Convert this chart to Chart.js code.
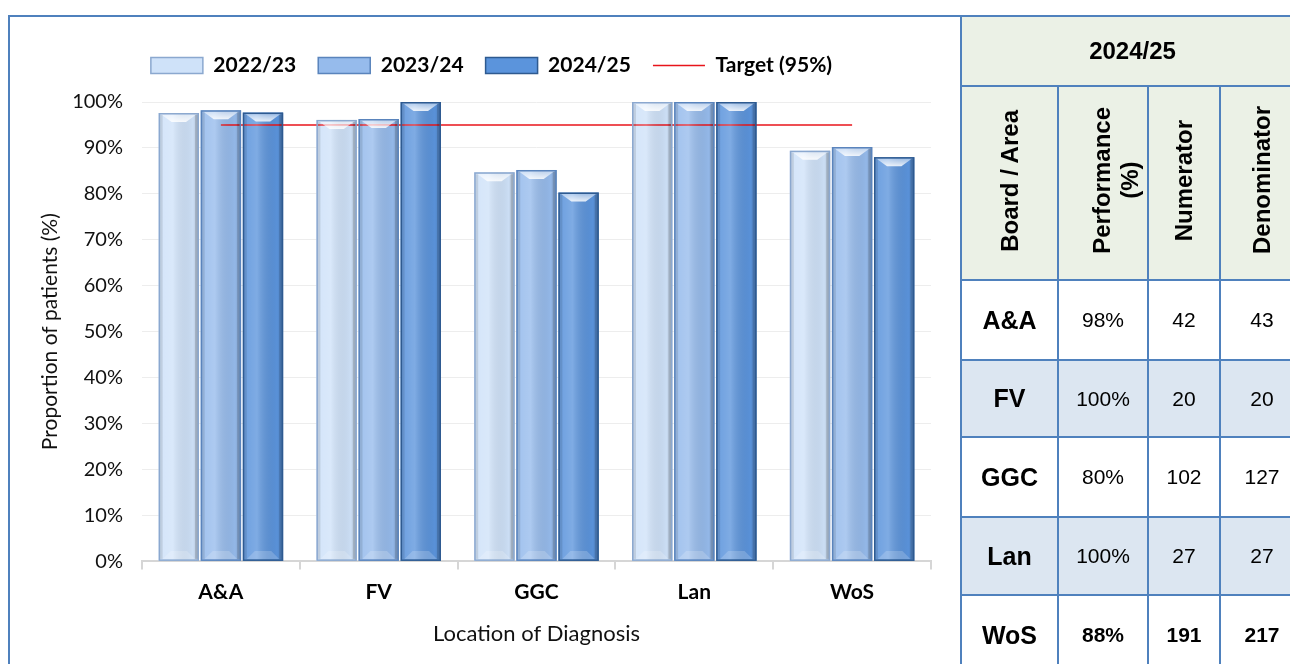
<!DOCTYPE html>
<html>
<head>
<meta charset="utf-8">
<script src="https://cdn.jsdelivr.net/npm/chart.js@4.4.1/dist/chart.umd.min.js"></script>
<style>
  html, body { margin: 0; padding: 0; background: #fff; overflow: hidden; }
  body { width: 1290px; height: 664px; position: relative; }
  #chart-panel {
    position: absolute; left: 8px; top: 15px; width: 953px; height: 660px;
    border-top: 2px solid #4f81bd; border-left: 2px solid #4f81bd; box-sizing: border-box;
  }
  #chart-wrap { position: absolute; left: 0; top: 0; width: 951px; height: 647px; }
  table.summary {
    position: absolute; left: 960px; top: 15px; table-layout: fixed; width: 343px;
    border-collapse: collapse; font-family: "Liberation Sans", Arial, sans-serif; color: #000;
  }
  table.summary td { border: 2px solid #4f81bd; text-align: center; padding: 0; font-size: 21px; }
  table.summary .hd { background: #ebf1e6; }
  table.summary .alt { background: #dce6f1; }
  table.summary .rot { writing-mode: vertical-rl; transform: rotate(180deg); font-weight: bold; font-size: 24px; line-height: 28px; display: inline-block; }
  table.summary .lab { font-weight: bold; font-size: 25px; }
  table.summary .bold td { font-weight: bold; }
</style>
</head>
<body>
<div id="chart-panel"><div id="chart-wrap"><canvas id="barChart"></canvas></div></div>
<table class="summary" id="summary"></table>
<script>
// data
const areas = ['A&A', 'FV', 'GGC', 'Lan', 'WoS'];
const years = ['2022/23', '2023/24', '2024/25'];
const perf2022 = [97.6, 96.1, 84.7, 100, 89.4];
const perf2023 = [98.2, 96.3, 85.2, 100, 90.2];
const perf2024 = [97.7, 100, 80.3, 100, 88.0];
const targetVals = [95, 95, 95, 95, 95];
const yTicks = [0, 10, 20, 30, 40, 50, 60, 70, 80, 90, 100];

// table for 2024/25
const tblPerf = ['98%', '100%', '80%', '100%', '88%'];
const tblNum = [42, 20, 102, 27, 191];
const tblDen = [43, 20, 127, 27, 217];

const barFill = ['#cfe2f9', '#96bbec', '#5b94dc'];
const barEdge = ['#8ba8cf', '#5a84bc', '#2e5a90'];
const fontFam = 'Lato, "Open Sans", sans-serif';

// --- table ---
const tbl = document.getElementById('summary');
let html = '<colgroup><col style="width:97px"><col style="width:90px"><col style="width:72px"><col style="width:84px"></colgroup>';
html += '<tr class="hd"><td colspan="4" style="height:68px;font-weight:bold;font-size:24px">2024/25</td></tr>';
html += '<tr class="hd" style="height:194px">' +
  '<td><span class="rot">Board / Area</span></td>' +
  '<td style="padding-left:26px"><span class="rot">Performance<br>(%)</span></td>' +
  '<td><span class="rot">Numerator</span></td>' +
  '<td><span class="rot">Denominator</span></td></tr>';
const rowH = [80, 77, 80, 78, 80];
areas.forEach((a, i) => {
  const cls = (i % 2 === 1 ? 'alt' : '') + (i === areas.length - 1 ? ' bold' : '');
  html += `<tr class="${cls}" style="height:${rowH[i]}px"><td class="lab">${a}</td><td>${tblPerf[i]}</td><td>${tblNum[i]}</td><td>${tblDen[i]}</td></tr>`;
});
tbl.innerHTML = html;

// bevel look on the bars, drawn from the bar elements themselves
const bevelPlugin = {
  id: 'bevel',
  afterDatasetsDraw(chart) {
    const ctx = chart.ctx;
    chart.data.datasets.forEach((ds, di) => {
      if (ds.type === 'line') return;
      const meta = chart.getDatasetMeta(di);
      meta.data.forEach(bar => {
        const { x, y, base, width } = bar.getProps(['x', 'y', 'base', 'width'], true);
        const l = x - width / 2, r = x + width / 2, t = y, b = base;
        const bv = 9;
        ctx.save();
        const g = ctx.createLinearGradient(l, 0, r, 0);
        g.addColorStop(0, 'rgba(255,255,255,0.10)');
        g.addColorStop(0.35, 'rgba(255,255,255,0.22)');
        g.addColorStop(0.85, 'rgba(0,0,0,0.02)');
        g.addColorStop(1, 'rgba(0,0,0,0.18)');
        ctx.fillStyle = g;
        ctx.fillRect(l, t, width, b - t);
        const tg = ctx.createLinearGradient(0, t, 0, t + bv);
        tg.addColorStop(0, 'rgba(255,255,255,0.35)');
        tg.addColorStop(1, 'rgba(255,255,255,0.85)');
        ctx.fillStyle = tg;
        ctx.beginPath();
        ctx.moveTo(l + 2, t + 1); ctx.lineTo(r - 2, t + 1);
        ctx.lineTo(r - bv - 4, t + bv); ctx.lineTo(l + bv + 4, t + bv);
        ctx.closePath(); ctx.fill();
        ctx.fillStyle = 'rgba(0,0,0,0.14)';
        ctx.fillRect(r - 4, t + 2, 3, b - t - 4);
        ctx.fillStyle = 'rgba(0,0,0,0.10)';
        ctx.fillRect(l + 1, t + 2, 3, b - t - 4);
        // lighter bottom facet
        ctx.fillStyle = 'rgba(255,255,255,0.18)';
        ctx.beginPath();
        ctx.moveTo(l + 4, b - 2); ctx.lineTo(r - 4, b - 2);
        ctx.lineTo(r - 12, b - 10); ctx.lineTo(l + 12, b - 10);
        ctx.closePath(); ctx.fill();
        ctx.strokeStyle = barEdge[di];
        ctx.lineWidth = 1.5;
        ctx.strokeRect(l + 0.75, t + 0.75, width - 1.5, b - t - 1.5);
        ctx.restore();
      });
    });
  }
};

// extra room below the legend, and nudge it a little to the right
const legendGap = {
  id: 'legendGap',
  beforeInit(chart) {
    const fit = chart.legend.fit;
    chart.legend.fit = function () { fit.bind(chart.legend)(); this.height += 16; };
  },
  afterLayout(chart) {
    chart.legend.left += 8;
    chart.legend.right += 8;
  }
};

const barSets = [perf2022, perf2023, perf2024].map((vals, i) => ({
  type: 'bar',
  label: years[i],
  data: vals,
  backgroundColor: barFill[i],
  borderColor: barEdge[i],
  borderWidth: 0,
  barPercentage: 0.96,
  categoryPercentage: 0.8,
  order: 2
}));

new Chart(document.getElementById('barChart'), {
  data: {
    labels: areas,
    datasets: [...barSets, {
      type: 'line',
      label: 'Target (95%)',
      data: targetVals,
      borderColor: '#e8141b',
      backgroundColor: '#e8141b',
      borderWidth: 1.5,
      pointRadius: 0,
      fill: false,
      order: 1
    }]
  },
  plugins: [bevelPlugin, legendGap],
  options: {
    responsive: true,
    maintainAspectRatio: false,
    animation: false,
    layout: { padding: { left: 26, right: 30, top: 16, bottom: 13 } },
    scales: {
      y: {
        min: 0, max: 100,
        afterBuildTicks(scale) { scale.ticks = yTicks.map(v => ({ value: v })); },
        afterFit(scale) { scale.width = 106; },
        ticks: { callback: v => v + '%', color: '#111', font: { family: fontFam, size: 20 }, padding: 19 },
        grid: { color: '#ededed', lineWidth: 1, drawTicks: false },
        border: { display: false },
        title: { display: true, text: 'Proportion of patients (%)', color: '#111', font: { family: fontFam, size: 21 }, padding: 2 }
      },
      x: {
        ticks: { color: '#000', font: { family: fontFam, size: 21, weight: 'bold' }, padding: 10 },
        grid: { drawOnChartArea: false, color: '#d6d6d6', lineWidth: 2, tickLength: 8 },
        border: { color: '#d6d6d6', width: 2 },
        title: { display: true, text: 'Location of Diagnosis', color: '#111', font: { family: fontFam, size: 22 }, padding: { top: 6 } }
      }
    },
    plugins: {
      legend: {
        position: 'top',
        labels: {
          sort: (a, b) => a.datasetIndex - b.datasetIndex,
          usePointStyle: true,
          pointStyleWidth: 52,
          boxHeight: 16,
          padding: 22,
          color: '#000',
          font: { family: fontFam, size: 21, weight: 'bold' },
          generateLabels(chart) {
            const items = Chart.defaults.plugins.legend.labels.generateLabels(chart);
            return items.map(it => {
              const i = it.datasetIndex;
              if (i < 3) {
                it.pointStyle = 'rect';
                it.fillStyle = barFill[i];
                it.strokeStyle = barEdge[i];
                it.lineWidth = 1.5;
              } else {
                it.pointStyle = 'line';
                it.strokeStyle = '#e8141b';
                it.lineWidth = 1.5;
              }
              return it;
            });
          }
        }
      },
      tooltip: { enabled: false }
    }
  }
});
</script>
</body>
</html>
